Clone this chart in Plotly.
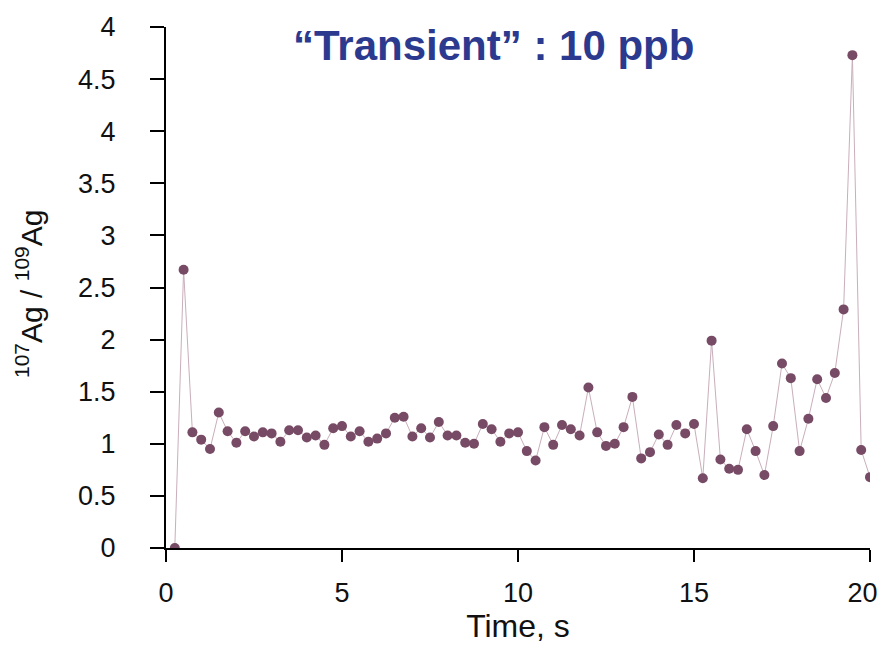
import plotly.graph_objects as go

# Time (s) and 107Ag/109Ag ratio
time_s = [0.25, 0.5, 0.75, 1.0, 1.25, 1.5, 1.75, 2.0, 2.25, 2.5,
          2.75, 3.0, 3.25, 3.5, 3.75, 4.0, 4.25, 4.5, 4.75, 5.0,
          5.25, 5.5, 5.75, 6.0, 6.25, 6.5, 6.75, 7.0, 7.25, 7.5,
          7.75, 8.0, 8.25, 8.5, 8.75, 9.0, 9.25, 9.5, 9.75, 10.0,
          10.25, 10.5, 10.75, 11.0, 11.25, 11.5, 11.75, 12.0, 12.25, 12.5,
          12.75, 13.0, 13.25, 13.5, 13.75, 14.0, 14.25, 14.5, 14.75, 15.0,
          15.25, 15.5, 15.75, 16.0, 16.25, 16.5, 16.75, 17.0, 17.25, 17.5,
          17.75, 18.0, 18.25, 18.5, 18.75, 19.0, 19.25, 19.5, 19.75, 20.0]
ratio = [0.00, 2.67, 1.11, 1.04, 0.95, 1.30, 1.12, 1.01, 1.12, 1.07,
         1.11, 1.10, 1.02, 1.13, 1.13, 1.06, 1.08, 0.99, 1.15, 1.17,
         1.07, 1.12, 1.02, 1.05, 1.10, 1.25, 1.26, 1.07, 1.15, 1.06,
         1.21, 1.08, 1.08, 1.01, 1.00, 1.19, 1.14, 1.02, 1.10, 1.11,
         0.93, 0.84, 1.16, 0.99, 1.18, 1.14, 1.08, 1.54, 1.11, 0.98,
         1.00, 1.16, 1.45, 0.86, 0.92, 1.09, 0.99, 1.18, 1.10, 1.19,
         0.67, 1.99, 0.85, 0.76, 0.75, 1.14, 0.93, 0.70, 1.17, 1.77,
         1.63, 0.93, 1.24, 1.62, 1.44, 1.68, 2.29, 4.73, 0.94, 0.68]

x_tickvals = [0, 5, 10, 15, 20]
x_ticktext = ["0", "5", "10", "15", "20\u00a0\u00a0"]
y_tickvals = [0, 0.5, 1, 1.5, 2, 2.5, 3, 3.5, 4, 4.5, 5]
y_ticktext = ["0", "0.5", "1", "1.5", "2", "2.5", "3", "3.5", "4", "4.5", "4"]

title_text = "\u201cTransient\u201d : 10 ppb"
y_title = "<sup>107</sup>Ag / <sup>109</sup>Ag"

FONT = "Liberation Sans, Arial, sans-serif"

fig = go.Figure()
fig.add_trace(go.Scatter(
    x=time_s, y=ratio, mode="lines+markers",
    line=dict(color="#c9aebb", width=1),
    marker=dict(color="#774a65", size=10),
    showlegend=False,
))

tick_font = dict(family=FONT, size=27, color="#111")

fig.update_layout(
    width=880, height=646,
    margin=dict(l=166, r=10, t=27, b=98),
    paper_bgcolor="white", plot_bgcolor="white",
    xaxis=dict(
        range=[0, 20], tickvals=x_tickvals, ticktext=x_ticktext,
        showgrid=False, zeroline=False, showline=True, linecolor="black", linewidth=2,
        ticks="outside", ticklen=12, tickwidth=2, tickcolor="black",
        tickfont=tick_font, ticklabelstandoff=8, ticklabeloverflow="allow",
        automargin=False,
        title=dict(text="Time, s", font=dict(family=FONT, size=32, color="#111"), standoff=2),
    ),
    yaxis=dict(
        range=[0, 5], tickvals=y_tickvals, ticktext=y_ticktext,
        showgrid=False, zeroline=False, showline=True, linecolor="black", linewidth=2,
        ticks="outside", ticklen=14, tickwidth=2, tickcolor="black",
        tickfont=tick_font, ticklabelstandoff=29, ticklabeloverflow="allow",
        automargin=False,
    ),
    annotations=[
        dict(text="<b>" + title_text + "</b>", xref="paper", yref="paper",
             x=0.465, y=0.965, xanchor="center", yanchor="middle", showarrow=False,
             font=dict(family=FONT, size=42, color="#2b3a8f")),
        dict(text=y_title, xref="paper", yref="paper", textangle=-90,
             x=-0.1946, y=0.4875, xanchor="center", yanchor="middle", showarrow=False,
             font=dict(family=FONT, size=30, color="#111")),
    ],
)

fig.write_html("out.html", config={"displayModeBar": False},
               post_script="document.body.style.margin='0';")
